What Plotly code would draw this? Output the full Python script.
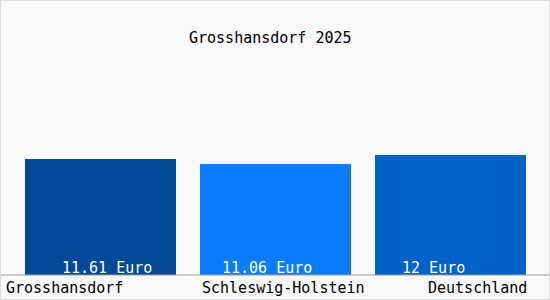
import plotly.graph_objects as go

categories = ["Grosshansdorf", "Schleswig-Holstein", "Deutschland"]
values = [11.61, 11.06, 12.0]
value_labels = ["11.61 Euro", "11.06 Euro", "12 Euro"]
colors = ["#024a96", "#0a7cfc", "#0063c8"]
title = "Grosshansdorf 2025"

FONT = "DejaVu Sans Mono"
W, H = 550, 300
px_per_unit = 10.0
base_px = 275  # y pixel of value 0
cat_step = 175.0
first_center = 100.5

def xk(px):
    return (px - first_center) / cat_step

def yv(py):
    return (base_px - py) / px_per_unit

xs = list(range(len(categories)))

fig = go.Figure()
fig.add_trace(go.Bar(
    x=xs, y=values, marker=dict(color=colors, line=dict(width=0)),
    width=151 / cat_step, hoverinfo="skip",
))

annotations = []
# value labels inside bars (left-ish start positions)
val_starts = [60, 220, 400]
for i, (lab, sx) in enumerate(zip(value_labels, val_starts)):
    annotations.append(dict(x=xk(sx), y=yv(268), xref="x", yref="y", text=lab,
                            showarrow=False, xanchor="left", yanchor="middle",
                            font=dict(family=FONT, size=15, color="white")))
# category labels
cat_pos = [(4, "left"), (283, "center"), (529, "right")]
for lab, (px, anc) in zip(categories, cat_pos):
    annotations.append(dict(x=xk(px), y=yv(288), xref="x", yref="y", text=lab,
                            showarrow=False, xanchor=anc, yanchor="middle",
                            font=dict(family=FONT, size=15, color="black")))
# title
annotations.append(dict(x=xk(270), y=yv(38), xref="x", yref="y", text=title,
                        showarrow=False, xanchor="center", yanchor="middle",
                        font=dict(family=FONT, size=15, color="black")))

shapes = [
    dict(type="line", xref="paper", yref="y", x0=0, x1=1, y0=0, y1=0,
         line=dict(color="#9a9a9a", width=1)),
    dict(type="rect", xref="paper", yref="paper", x0=0, x1=1, y0=0, y1=1,
         line=dict(color="#dcdcdc", width=2)),
]

fig.update_layout(
    width=W, height=H,
    margin=dict(l=0, r=0, t=0, b=0),
    paper_bgcolor="#f9f9f9", plot_bgcolor="#f9f9f9",
    showlegend=False,
    xaxis=dict(range=[xk(0), xk(W)], visible=False, fixedrange=True),
    yaxis=dict(range=[yv(H), yv(0)], visible=False, fixedrange=True),
    annotations=annotations, shapes=shapes,
    bargap=0,
)

fig.write_html("out.html", config={"displayModeBar": False})
